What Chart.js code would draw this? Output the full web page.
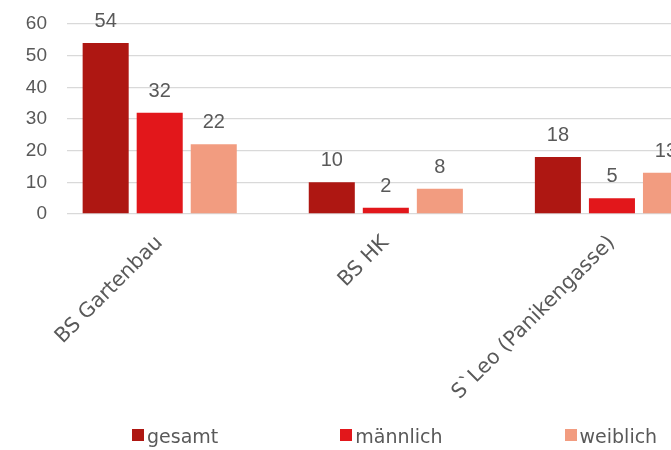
<!DOCTYPE html>
<html>
<head>
<meta charset="utf-8">
<title>Chart</title>
<script src="https://cdn.jsdelivr.net/npm/chart.js@4.4.1/dist/chart.umd.min.js"></script>
<style>
    html, body { margin: 0; padding: 0; background: #ffffff; overflow: hidden; }
    #wrap { position: relative; width: 725px; height: 450px; }
    #legend {
        position: absolute; left: 132px; top: 424px;
        display: flex; align-items: center; gap: 122px;
        font-family: "DejaVu Sans"; font-size: 19px; color: #595959; white-space: nowrap;
    }
    .item { display: flex; align-items: center; }
    .box { width: 12px; height: 12px; margin-right: 3px; }
    .txt { position: relative; top: 1px; }
</style>
</head>
<body>
<div id="wrap">
    <canvas id="chart" width="725" height="450"></canvas>
    <div id="legend"></div>
</div>
<script>
// Data
var categories = ['BS Gartenbau', 'BS HK', 'S`Leo (Panikengasse)'];
var gesamt = [54, 10, 18];
var maennlich = [32, 2, 5];
var weiblich = [22, 8, 13];
var yTicks = [0, 10, 20, 30, 40, 50, 60];

var textColor = '#595959';

function toPoints(values)
{
    // one bar per category index on the x scale
    return values.map(function(v, i) {
        return { x: i, y: v };
    });
}

// Draw the value above each bar
var valueLabels = {
    id: 'valueLabels',
    afterDatasetsDraw: function(chart) {
        var ctx = chart.ctx;
        ctx.save();
        ctx.font = '20px "Liberation Sans"';
        ctx.fillStyle = textColor;
        ctx.textAlign = 'center';
        ctx.textBaseline = 'alphabetic';
        chart.data.datasets.forEach(function(ds, di) {
            chart.getDatasetMeta(di).data.forEach(function(bar, i) {
                ctx.fillText(String(ds.data[i].y), bar.x, bar.y - 16);
            });
        });
        ctx.restore();
    }
};

var ctx = document.getElementById('chart').getContext('2d');

var chart = new Chart(ctx, {
    type: 'bar',
    data: {
        datasets: [
            { label: 'gesamt', data: toPoints(gesamt), backgroundColor: '#AE1712' },
            { label: 'männlich', data: toPoints(maennlich), backgroundColor: '#E2171B' },
            { label: 'weiblich', data: toPoints(weiblich), backgroundColor: '#F29C80' }
        ]
    },
    options: {
        responsive: false,
        animation: false,
        layout: { padding: { top: 24, left: 0, right: 0, bottom: 0 } },
        datasets: {
            bar: { categoryPercentage: 0.717, barPercentage: 0.852 }
        },
        plugins: {
            legend: { display: false },
            tooltip: { enabled: false }
        },
        scales: {
            x: {
                type: 'linear',
                min: -0.41,
                max: 2.5,
                offset: false,
                grid: { display: false, drawTicks: false, offset: false },
                border: { display: false },
                ticks: {
                    stepSize: 1,
                    includeBounds: false,
                    autoSkip: false,
                    minRotation: 45,
                    maxRotation: 45,
                    padding: 17,
                    color: textColor,
                    font: { family: 'DejaVu Sans', size: 20.5 },
                    callback: function(value) {
                        return Number.isInteger(value) ? categories[value] : '';
                    }
                },
                afterFit: function(scale) { scale.height = 236; }
            },
            y: {
                min: yTicks[0],
                max: yTicks[yTicks.length - 1],
                // invisible tick marks keep the labels away from the plot
                grid: { color: '#d9d9d9', lineWidth: 1.3, drawTicks: true, tickLength: 20, tickColor: 'rgba(0,0,0,0)' },
                border: { display: false },
                ticks: {
                    stepSize: yTicks[1] - yTicks[0],
                    padding: 0,
                    color: textColor,
                    font: { family: 'Liberation Sans', size: 19 }
                },
                afterFit: function(scale) { scale.width = 67; }
            }
        }
    },
    plugins: [valueLabels]
});

// Legend built from the datasets
var legend = document.getElementById('legend');
chart.data.datasets.forEach(function(ds) {
    var item = document.createElement('div');
    item.className = 'item';
    var box = document.createElement('span');
    box.className = 'box';
    box.style.background = ds.backgroundColor;
    var txt = document.createElement('span');
    txt.className = 'txt';
    txt.textContent = ds.label;
    item.append(box);
    item.append(txt);
    legend.append(item);
});
</script>
</body>
</html>
